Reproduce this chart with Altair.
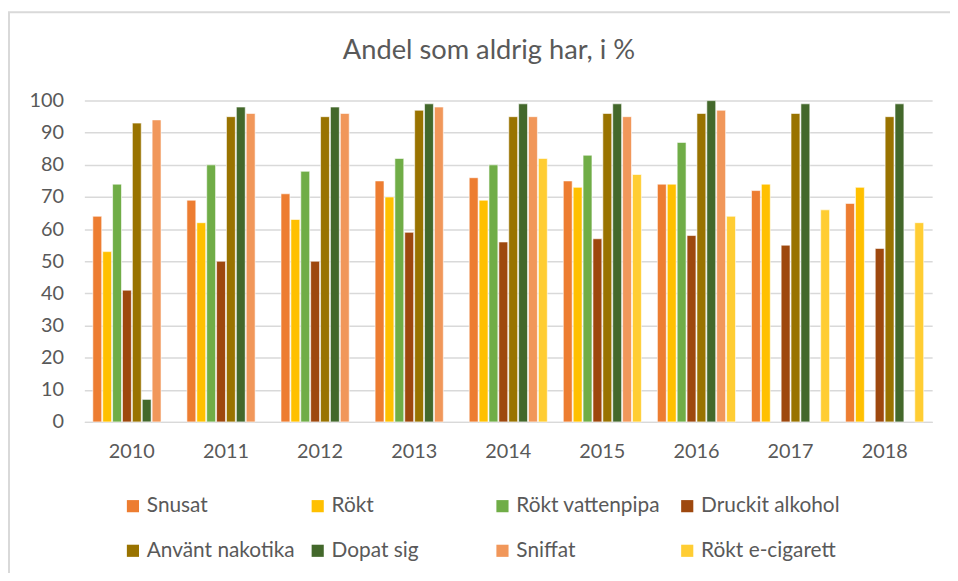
import altair as alt
import pandas as pd

title_text = "Andel som aldrig har, i %"
years = ["2010", "2011", "2012", "2013", "2014", "2015", "2016", "2017", "2018"]
series = ["Snusat", "Rökt", "Rökt vattenpipa", "Druckit alkohol",
          "Använt nakotika", "Dopat sig", "Sniffat", "Rökt e-cigarett"]
colors = ["#ED7D31", "#FFC000", "#70AD47", "#9E480E",
          "#997300", "#43682B", "#F1975A", "#FFCD33"]

snusat = [64, 69, 71, 75, 76, 75, 74, 72, 68]
rokt = [53, 62, 63, 70, 69, 73, 74, 74, 73]
vattenpipa = [74, 80, 78, 82, 80, 83, 87, None, None]
alkohol = [41, 50, 50, 59, 56, 57, 58, 55, 54]
narkotika = [93, 95, 95, 97, 95, 96, 96, 96, 95]
dopat = [7, 98, 98, 99, 99, 99, 100, 99, 99]
sniffat = [94, 96, 96, 98, 95, 95, 97, None, None]
ecig = [None, None, None, None, 82, 77, 64, 66, 62]

values = [snusat, rokt, vattenpipa, alkohol, narkotika, dopat, sniffat, ecig]
rows = []
for s, vals in zip(series, values):
    for y, v in zip(years, vals):
        if v is not None:
            rows.append({"year": y, "series": s, "value": v})
df = pd.DataFrame(rows)

legend_df = pd.DataFrame({
    "series": series,
    "col": [i % 4 for i in range(len(series))],
    "row": [i // 4 for i in range(len(series))],
})

FONT = "Lato"
GREY = "#595959"
color_scale = alt.Scale(domain=series, range=colors)

bars = alt.Chart(df).mark_bar(stroke="white", strokeWidth=0.6).encode(
    x=alt.X("year:N", sort=years,
            scale=alt.Scale(domain=years, paddingInner=0.17, paddingOuter=0.09),
            axis=alt.Axis(title=None, labelAngle=0, labelFontSize=20, labelColor=GREY,
                          labelFont=FONT, ticks=False, domainColor="#d9d9d9",
                          domainWidth=1.5, labelPadding=20)),
    xOffset=alt.XOffset("series:N", sort=series,
                        scale=alt.Scale(domain=series, paddingInner=0.1)),
    y=alt.Y("value:Q",
            scale=alt.Scale(domain=[0, 100]),
            axis=alt.Axis(title=None, values=list(range(0, 101, 10)), labelFontSize=20,
                          labelColor=GREY, labelFont=FONT, ticks=False, domain=False,
                          gridColor="#d9d9d9", gridWidth=1.5, labelPadding=21)),
    color=alt.Color("series:N", sort=series, scale=color_scale, legend=None),
)

leg_x = alt.X("col:Q", scale=alt.Scale(domain=[0, 3], range=[49, 608]), axis=None)
leg_y = alt.Y("row:Q", scale=alt.Scale(domain=[0, 1], range=[409, 454]), axis=None)

legend_sq = alt.Chart(legend_df).mark_square(size=150, opacity=1).encode(
    x=leg_x, y=leg_y,
    color=alt.Color("series:N", sort=series, scale=color_scale, legend=None),
)
legend_txt = alt.Chart(legend_df).mark_text(
    align="left", baseline="middle", dx=14, fontSize=21, font=FONT, color=GREY
).encode(x=leg_x, y=leg_y, text="series:N")

one = pd.DataFrame({"a": [0]})
border = alt.Chart(one).mark_rect(
    fill="white", fillOpacity=0, stroke="#d9d9d9", strokeWidth=2
).encode(
    x=alt.value(-76), x2=alt.value(900), y=alt.value(-89), y2=alt.value(500)
)
title = alt.Chart(one).mark_text(
    align="center", baseline="middle", fontSize=27.5, font=FONT, color=GREY
).encode(x=alt.value(408), y=alt.value(-50), text=alt.value(title_text))

chart = alt.layer(border, title, bars, legend_sq, legend_txt).resolve_scale(
    x="independent", y="independent"
).properties(
    width=855,
    height=324,
    autosize="none",
    padding={"left": 77, "top": 91, "right": 18, "bottom": 150},
).configure_view(stroke=None)

chart.save("out.html", embed_options={"renderer": "svg", "actions": False})
